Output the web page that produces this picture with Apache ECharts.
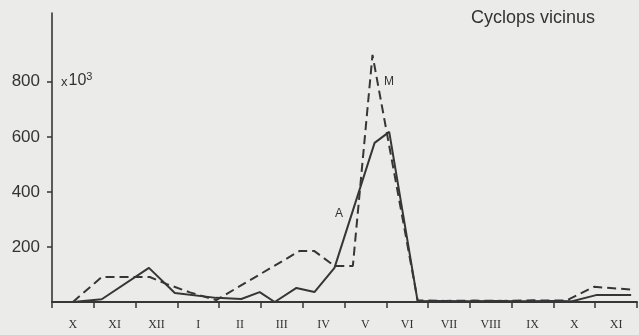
<!DOCTYPE html>
<html>
<head>
<meta charset="utf-8">
<script src="https://cdn.jsdelivr.net/npm/echarts@6/dist/echarts.min.js"></script>
<style>
html,body{margin:0;padding:0;background:#ebebe9;}
#c{width:639px;height:335px;}
</style>
</head>
<body>
<div id="c"></div>
<script>
// Month labels (October of year 1 to November of year 2)
var months = ['X','XI','XII','I','II','III','IV','V','VI','VII','VIII','IX','X','XI'];
// y tick labels (x 10^3)
var yTicks = [200, 400, 600, 800];
// Series A (solid): position in months from start of axis, value (x10^3)
var solidX = [0.5, 1.19, 2.32, 2.94, 3.93, 4.53, 4.97, 5.33, 5.85, 6.28, 6.76, 7.72, 8.07, 8.75, 9.3, 10.0, 10.6, 11.3, 12.0, 12.45, 13.02, 13.86];
var solidY = [0, 10, 124, 33, 15, 11, 36, 0, 51, 36, 124, 578, 618, 3, 4, 3, 4, 3, 4, 3, 25, 25];
// Series M (dashed)
var dashedX = [0.5, 1.19, 2.34, 2.75, 3.3, 3.93, 5.92, 6.28, 6.76, 7.2, 7.67, 8.75, 9.4, 10.1, 10.8, 11.5, 12.3, 12.97, 13.86];
var dashedY = [0, 91, 91, 65, 35, 7, 185, 185, 131, 131, 898, 6, 4, 5, 4, 6, 5, 55, 45];

function pairs(xs, ys){ return xs.map(function(x,i){ return [x, ys[i]]; }); }

var ink = '#363636';
var chart = echarts.init(document.getElementById('c'));
chart.setOption({
  backgroundColor: '#ebebe9',
  animation: false,
  grid: {left: 52, right: 2, top: 13, bottom: 33},
  xAxis: [{
    type: 'category',
    data: months,
    boundaryGap: true,
    axisLine: {lineStyle: {color: ink, width: 2}},
    axisTick: {show: true, interval: 0, length: 6, lineStyle: {color: ink, width: 1.5}},
    axisLabel: {interval: 0, color: '#333', fontFamily: 'Liberation Serif', fontSize: 12, margin: 17},
    splitLine: {show: false}
  }, {
    type: 'value', min: 0, max: 14, show: false
  }],
  yAxis: {
    type: 'value', min: 0, max: 1050,
    axisLine: {show: true, lineStyle: {color: ink, width: 1.6}},
    axisTick: {show: true, length: 5, customValues: yTicks, lineStyle: {color: ink, width: 1.5}},
    axisLabel: {customValues: yTicks, color: '#333', fontFamily: 'Liberation Sans', fontSize: 17, margin: 12},
    splitLine: {show: false}
  },
  series: [{
    name: 'A', type: 'line', xAxisIndex: 1,
    data: pairs(solidX, solidY),
    showSymbol: false, symbol: 'none',
    lineStyle: {color: ink, width: 2, type: 'solid'}
  }, {
    name: 'M', type: 'line', xAxisIndex: 1,
    data: pairs(dashedX, dashedY),
    showSymbol: false, symbol: 'none',
    lineStyle: {color: ink, width: 2, type: [9, 5]}
  }],
  graphic: [
    {type: 'text', left: 471, top: 9, style: {text: 'Cyclops vicinus', fontFamily: 'Liberation Sans', fontSize: 18, fill: '#333'}},
    {type: 'text', left: 61, top: 71, style: {text: '{x|x}10{s|3}', fontFamily: 'Liberation Sans', fontSize: 16, fill: '#333',
      rich: {x: {fontSize: 13, fontFamily: 'Liberation Sans', fill: '#333', padding: [3,1,0,0]},
             s: {fontSize: 11, verticalAlign: 'top', padding: [0,0,9,0], fontFamily: 'Liberation Sans', fill: '#333'}}}},
    {type: 'text', left: 335, top: 208, style: {text: 'A', fontFamily: 'Liberation Sans', fontSize: 12, fill: '#333'}},
    {type: 'text', left: 384, top: 76, style: {text: 'M', fontFamily: 'Liberation Sans', fontSize: 12, fill: '#333'}}
  ]
});
</script>
</body>
</html>
